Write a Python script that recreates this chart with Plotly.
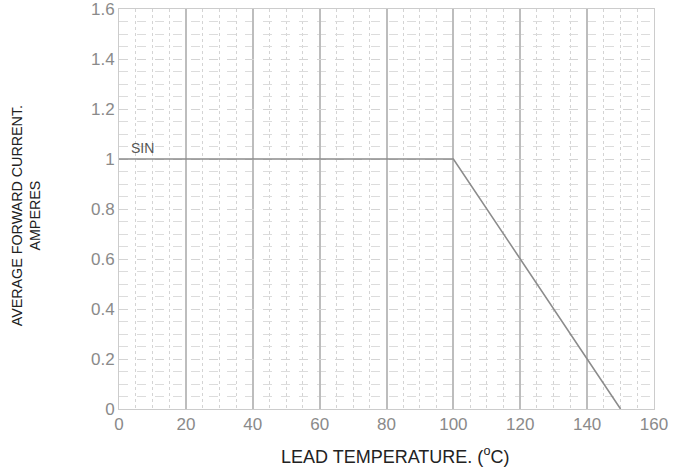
import plotly.graph_objects as go

temp = [0, 100, 150]
current = [1.0, 1.0, 0.0]
series_label = "SIN"
x_ticks = [0, 20, 40, 60, 80, 100, 120, 140, 160]
y_ticks = [0, 0.2, 0.4, 0.6, 0.8, 1, 1.2, 1.4, 1.6]
y_tick_text = ["0", "0.2", "0.4", "0.6", "0.8", "1", "1.2", "1.4", "1.6"]

FONT = "Liberation Sans, Arial, sans-serif"

fig = go.Figure()
fig.add_trace(go.Scatter(x=temp, y=current, mode="lines",
                         line=dict(color="#8c8c8c", width=1.6),
                         showlegend=False, hoverinfo="skip"))

fig.update_layout(
    width=673, height=467,
    margin=dict(l=119, r=19, t=9, b=58, autoexpand=False),
    paper_bgcolor="white", plot_bgcolor="white",
    font=dict(family=FONT),
    annotations=[
        dict(text=series_label, x=3, y=1.0, xref="x", yref="y",
             xanchor="left", yanchor="bottom", yshift=1, showarrow=False,
             font=dict(size=14, color="#555555", family=FONT)),
        dict(text="LEAD TEMPERATURE. (<sup>o</sup>C)", x=0.515, y=-0.115,
             xref="paper", yref="paper", xanchor="center", yanchor="middle",
             showarrow=False, font=dict(size=18, color="#222222", family=FONT)),
        dict(text="AVERAGE FORWARD CURRENT.<br>AMPERES", x=-0.174, y=0.484,
             xref="paper", yref="paper", xanchor="center", yanchor="middle",
             textangle=-90, showarrow=False,
             font=dict(size=14.3, color="#222222", family=FONT)),
    ],
)

fig.update_xaxes(
    range=[0, 160], tickvals=x_ticks, ticks="", automargin=False,
    ticklabeloverflow="allow",
    tickfont=dict(size=17, color="#8a8a8a", family=FONT),
    showgrid=True, gridcolor="#bdbdbd", gridwidth=1.5,
    minor=dict(dtick=5, showgrid=True, gridcolor="#d4d4d4", gridwidth=1, griddash="dot"),
    showline=True, linecolor="#cccccc", linewidth=1, mirror=True,
    zeroline=False, fixedrange=True,
)
fig.update_yaxes(
    range=[0, 1.6], tickvals=y_ticks, ticktext=y_tick_text, ticks="", automargin=False,
    ticklabeloverflow="allow",
    tickfont=dict(size=17, color="#8a8a8a", family=FONT),
    showgrid=True, gridcolor="#d4d4d4", gridwidth=1, griddash="dash",
    minor=dict(dtick=0.05, showgrid=True, gridcolor="#dcdcdc", gridwidth=1, griddash="dash"),
    showline=True, linecolor="#cccccc", linewidth=1, mirror=True,
    zeroline=False, fixedrange=True,
)

fig.write_html("out.html")
